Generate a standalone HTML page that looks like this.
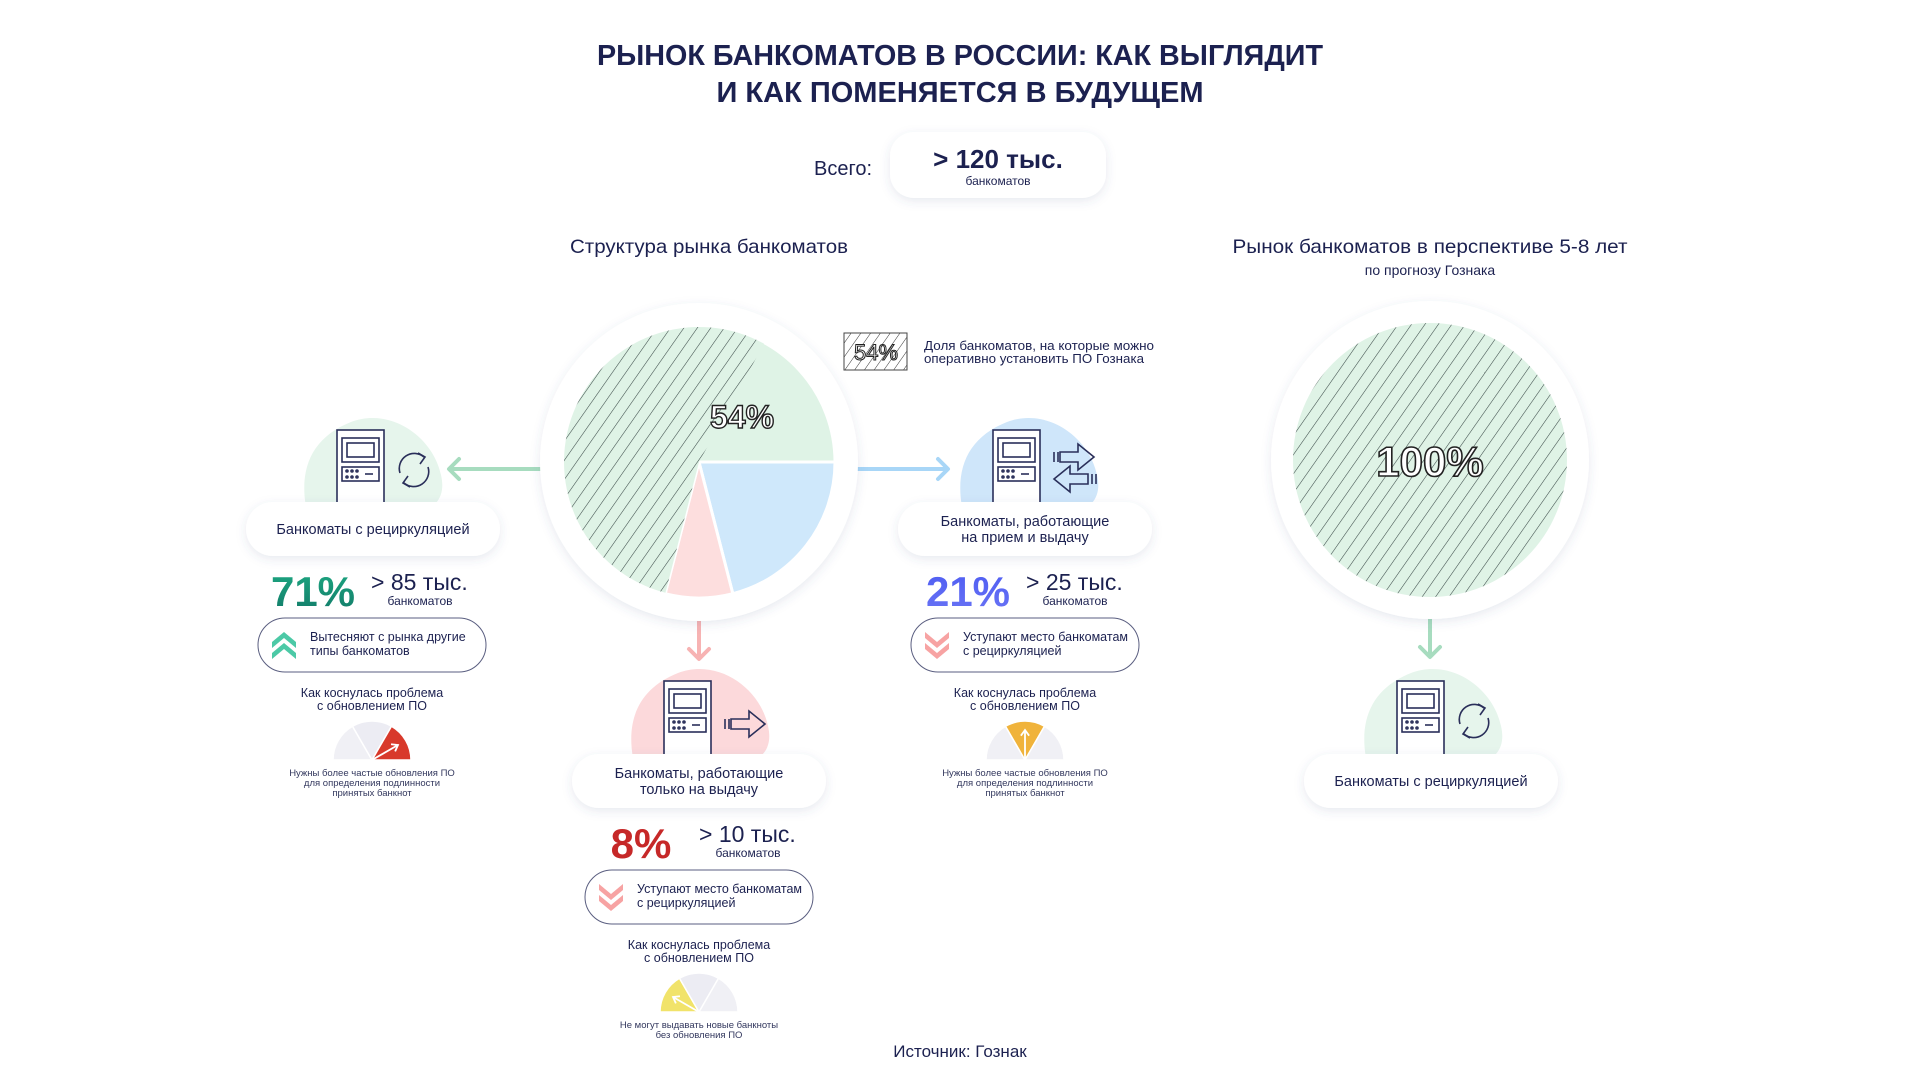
<!DOCTYPE html>
<html><head><meta charset="utf-8">
<style>
html,body{margin:0;padding:0;background:#fff;}
svg{display:block;font-family:"Liberation Sans","DejaVu Sans",sans-serif;}
</style></head>
<body>
<svg id="chart" width="1920" height="1080" viewBox="0 0 1920 1080" xmlns="http://www.w3.org/2000/svg">
<defs>
<pattern id="hatch" patternUnits="userSpaceOnUse" width="11" height="11" patternTransform="rotate(35)">
<rect width="11" height="11" fill="#dff3e6"/>
<line x1="0" y1="0" x2="0" y2="11" stroke="#3a4a48" stroke-width="1.1"/>
</pattern>
<pattern id="hatch2" patternUnits="userSpaceOnUse" width="8" height="8" patternTransform="rotate(35)">
<rect width="8" height="8" fill="#fff"/>
<line x1="0" y1="0" x2="0" y2="8" stroke="#333" stroke-width="1"/>
</pattern>
<filter id="sh" x="-20%" y="-30%" width="140%" height="170%"><feDropShadow dx="0" dy="3" stdDeviation="5" flood-color="#4a4f8a" flood-opacity="0.13"/></filter>
<linearGradient id="gGreen" x1="0" x2="0" y1="0" y2="1"><stop offset="0" stop-color="#1ea882"/><stop offset="1" stop-color="#127a68"/></linearGradient>
<linearGradient id="gBlue" x1="0" x2="0" y1="0" y2="1"><stop offset="0" stop-color="#4d5cf2"/><stop offset="1" stop-color="#6a74f5"/></linearGradient>
</defs>

<g fill="#1c2150" font-weight="bold" font-size="29" text-anchor="middle">
<text x="960" y="65" textLength="726" lengthAdjust="spacingAndGlyphs">РЫНОК БАНКОМАТОВ В РОССИИ: КАК ВЫГЛЯДИТ</text>
<text x="960" y="102" textLength="487" lengthAdjust="spacingAndGlyphs">И КАК ПОМЕНЯЕТСЯ В БУДУЩЕМ</text>
</g>

<text x="843" y="175" font-size="20" fill="#1c2150" text-anchor="middle">Всего:</text>
<rect x="890" y="132" width="216" height="66" rx="24" fill="#fff" filter="url(#sh)"/>
<text x="998" y="168" font-size="26" font-weight="bold" fill="#1c2150" text-anchor="middle">&gt; 120 тыс.</text>
<text x="998" y="185" font-size="12" fill="#1c2150" text-anchor="middle">банкоматов</text>

<text x="709" y="253" font-size="19.5" fill="#1c2150" text-anchor="middle" textLength="278" lengthAdjust="spacingAndGlyphs">Структура рынка банкоматов</text>
<text x="1430" y="253" font-size="19.5" fill="#1c2150" text-anchor="middle" textLength="395" lengthAdjust="spacingAndGlyphs">Рынок банкоматов в перспективе 5-8 лет</text>
<text x="1430" y="275" font-size="14" fill="#1c2150" text-anchor="middle">по прогнозу Гознака</text>

<g>
<rect x="844" y="333" width="63" height="37" fill="url(#hatch2)" stroke="#444" stroke-width="1"/>
<text x="876" y="360" font-size="22" fill="#fff" stroke="#222" stroke-width="1" text-anchor="middle">54%</text>
<text x="924" y="350" font-size="12.5" fill="#1c2150" textLength="230" lengthAdjust="spacingAndGlyphs">Доля банкоматов, на которые можно</text>
<text x="924" y="363" font-size="12.5" fill="#1c2150" textLength="220" lengthAdjust="spacingAndGlyphs">оперативно установить ПО Гознака</text>
</g>

<g id="connectors"></g>
<g id="pie"></g>
<g id="pie2"></g>
<g id="cards"></g>

<text x="960" y="1057" font-size="17" fill="#1c2150" text-anchor="middle">Источник: Гознак</text>
</svg>
<script>
const NS='http://www.w3.org/2000/svg';
// data
const categories=['Банкоматы с рециркуляцией','Банкоматы, работающие на прием и выдачу','Банкоматы, работающие только на выдачу'];
const shares=[71,21,8];
const counts=['> 85 тыс.','> 25 тыс.','> 10 тыс.'];
const hatchShare=[54];
const forecastShare=[100];
const gaugeLevel=[3,2,1];

function el(tag,attrs,parent,txt){const e=document.createElementNS(NS,tag);for(const k in attrs)e.setAttribute(k,attrs[k]);if(txt!==undefined)e.textContent=txt;if(parent)parent.appendChild(e);return e;}
function pt(cx,cy,r,a){return [cx+r*Math.cos(a),cy+r*Math.sin(a)];}
function arcPath(cx,cy,r,a0,a1){const p0=pt(cx,cy,r,a0),p1=pt(cx,cy,r,a1);const large=(a1-a0)>Math.PI?1:0;
if(a1-a0>=2*Math.PI-1e-6)return `M${cx-r},${cy}A${r},${r} 0 1 1 ${cx+r},${cy}A${r},${r} 0 1 1 ${cx-r},${cy}Z`;
return `M${cx},${cy}L${p0[0]},${p0[1]}A${r},${r} 0 ${large} 1 ${p1[0]},${p1[1]}Z`;}
const ang=v=>v/100*2*Math.PI;

// main pie
const pie=document.getElementById('pie');
const CX=699,CY=462,R=136;
const ring=el('circle',{cx:CX,cy:CY,r:159,fill:'#fff',filter:'url(#sh)'},pie);


const order=[1,2,0];const cols=['#dff3e6','#cfe8fb','#fddede'];
let a=0;const sliceStart=[];
order.forEach(i=>{const a1=a+ang(shares[i]);sliceStart[i]=a;
const p=el('path',{d:arcPath(CX,CY,R,a,a1),fill:cols[i],stroke:'#fff','stroke-width':3},pie);


a=a1;});
const h0=sliceStart[0];
const hp=el('path',{d:arcPath(CX,CY,R-1,h0,h0+ang(hatchShare[0])),fill:'url(#hatch)'},pie);


const hl=el('text',{x:742,y:428,'font-size':32,fill:'#fff',stroke:'#222','stroke-width':1.4,'text-anchor':'middle','font-weight':'bold'},pie,hatchShare[0]+'%');



// forecast pie
const pie2=document.getElementById('pie2');
const r2=el('circle',{cx:1430,cy:460,r:159,fill:'#fff',filter:'url(#sh)'},pie2);


const f=el('path',{d:arcPath(1430,460,137,0,ang(forecastShare[0])),fill:'url(#hatch)'},pie2);


const fl=el('text',{x:1430,y:476,'font-size':42,fill:'#fff',stroke:'#222','stroke-width':1.6,'text-anchor':'middle','font-weight':'bold'},pie2,forecastShare[0]+'%');



// connectors
const con=document.getElementById('connectors');
function arrow(x1,y1,x2,y2,c,name){const g=el('g',{},con);


el('line',{x1,y1,x2,y2,stroke:c,'stroke-width':4},g);
const dx=Math.sign(x2-x1),dy=Math.sign(y2-y1);
const px=-dy,py=dx;
el('polyline',{points:`${x2-dx*10+px*10},${y2-dy*10+py*10} ${x2},${y2} ${x2-dx*10-px*10},${y2-dy*10-py*10}`,fill:'none',stroke:c,'stroke-width':4,'stroke-linecap':'round','stroke-linejoin':'round'},g);}
arrow(560,469,449,469,'#a7dcbf','arrow-recycling');
arrow(835,469,948,469,'#a8d6f7','arrow-in-out');
arrow(699,596,699,659,'#f7b3b3','arrow-out-only');
arrow(1430,600,1430,657,'#a7dcbf','arrow-forecast');

const cards=document.getElementById('cards');
function atm(g,x,y,blob,extra){
const b=el('path',{d:`M${x-55},${y+40} C${x-62},${y} ${x-48},${y-30} ${x-10},${y-45} C${x+30},${y-60} ${x+72},${y-30} ${x+80},${y+8} C${x+84},${y+25} ${x+78},${y+35} ${x+70},${y+40} Z`,fill:blob},g);


const ic=el('g',{fill:'none',stroke:'#2a2f5a','stroke-width':1.6},g);


el('rect',{x:x-24,y:y-37,width:47,height:77,fill:'#fff'},ic);
el('rect',{x:x-19,y:y-29,width:37,height:24},ic);
el('rect',{x:x-14,y:y-24,width:27,height:14},ic);
el('rect',{x:x-19,y:y,width:37,height:14},ic);
for(let i=0;i<3;i++){el('circle',{cx:x-14+i*5,cy:y+4,r:1},ic);el('circle',{cx:x-14+i*5,cy:y+10,r:1},ic);}
el('line',{x1:x+4,y1:y+7,x2:x+12,y2:y+7},ic);
const ox=x+53;
if(extra==='recycle'){el('path',{d:`M${ox-14},${y+6} A15,15 0 0 1 ${ox+10},${y-10}`},ic);el('path',{d:`M${ox+14},${y} A15,15 0 0 1 ${ox-10},${y+16}`},ic);
el('polyline',{points:`${ox+4},${y-14} ${ox+11},${y-10} ${ox+6},${y-3}`},ic);el('polyline',{points:`${ox-4},${y+20} ${ox-11},${y+16} ${ox-6},${y+9}`},ic);}
if(extra==='out'||extra==='inout'){const yy=extra==='inout'?y-10:y+6;
el('path',{d:`M${ox-10},${yy-5}h18v-8l16,13l-16,13v-8h-18z`},ic);
el('line',{x1:ox-16,y1:yy-5,x2:ox-16,y2:yy+5},ic);el('line',{x1:ox-12,y1:yy-5,x2:ox-12,y2:yy+5},ic);}
if(extra==='inout'){const yy=y+12;
el('path',{d:`M${ox+18},${yy-5}h-18v-8l-16,13l16,13v-8h18z`},ic);
el('line',{x1:ox+22,y1:yy-5,x2:ox+22,y2:yy+5},ic);el('line',{x1:ox+26,y1:yy-5,x2:ox+26,y2:yy+5},ic);}
}
function label(g,cx,y,lines){const r=el('rect',{x:cx-127,y:y,width:254,height:54,rx:27,fill:'#fff',filter:'url(#sh)'},g);


const y0=lines.length===1?y+32:y+24;
lines.forEach((l,i)=>{const t=el('text',{x:cx,y:y0+i*16,'font-size':14.5,fill:'#1c2150','text-anchor':'middle'},g,l);

});}
function gauge(g,cx,cy,level,color){const gg=el('g',{},g);


for(let i=0;i<3;i++){const a0=Math.PI+i*Math.PI/3,a1=a0+Math.PI/3;
const on=(i===level-1);
el('path',{d:arcPath(cx,cy,39,a0,a1),fill:on?color:(i===1?'#ececf3':'#f0f0f5'),stroke:'#fff','stroke-width':1.5},gg);}
const am=Math.PI+(level-0.5)*Math.PI/3;const p=pt(cx,cy,30,am);
el('line',{x1:cx,y1:cy,x2:p[0],y2:p[1],stroke:'#fff','stroke-width':1.8},gg);
const q1=pt(p[0],p[1],7,am+Math.PI*0.8),q2=pt(p[0],p[1],7,am-Math.PI*0.8);
el('polyline',{points:`${q1[0]},${q1[1]} ${p[0]},${p[1]} ${q2[0]},${q2[1]}`,fill:'none',stroke:'#fff','stroke-width':1.8},gg);}
function block(i,cx,top,pctX,pctFill,pillText,up,chev,gColor,caption){
const g=el('g',{},cards);


const pv=el('text',{x:pctX,y:top+50,'font-size':42,'font-weight':'bold',fill:pctFill,'text-anchor':'middle'},g,shares[i]+'%');


const cv=el('text',{x:pctX+58,y:top+34,'font-size':23,fill:'#1c2150'},g,counts[i]);


el('text',{x:pctX+107,y:top+49,'font-size':12,fill:'#1c2150','text-anchor':'middle'},g,'банкоматов');
const py=top+62;
const pill=el('rect',{x:cx-114,y:py,width:228,height:54,rx:27,fill:'#fff',stroke:'#5a5e80','stroke-width':1},g);


const ch=el('g',{fill:chev},g);


const ix=cx-88,iy=py+14;
for(let k=0;k<2;k++){const yy=iy+k*11;
if(up)el('path',{d:`M${ix-12},${yy+10}L${ix},${yy}L${ix+12},${yy+10}L${ix+12},${yy+16}L${ix},${yy+6}L${ix-12},${yy+16}Z`},ch);
else el('path',{d:`M${ix-12},${yy}L${ix},${yy+10}L${ix+12},${yy}L${ix+12},${yy+6}L${ix},${yy+16}L${ix-12},${yy+6}Z`},ch);}
pillText.forEach((t,k)=>el('text',{x:cx-62,y:py+23+k*14,'font-size':12.5,fill:'#1c2150'},g,t));
const ky=top+141;
el('text',{x:cx,y:ky,'font-size':12.5,fill:'#1c2150','text-anchor':'middle'},g,'Как коснулась проблема');
el('text',{x:cx,y:ky+13,'font-size':12.5,fill:'#1c2150','text-anchor':'middle'},g,'с обновлением ПО');
gauge(g,cx,ky+63,gaugeLevel[i],gColor);
caption.forEach((t,k)=>el('text',{x:cx,y:ky+79+k*10,'font-size':9.5,fill:'#33385e','text-anchor':'middle'},g,t));
}
const capA=['Нужны более частые обновления ПО','для определения подлинности','принятых банкнот'];
// left
const gl=el('g',{},cards);
atm(gl,361,467,'#e6f5ec','recycle');label(gl,373,502,[categories[0]]);
block(0,372,556,313,'url(#gGreen)',['Вытесняют с рынка другие','типы банкоматов'],true,'#4cc9a6','#d8392b',capA);
// right
const gr=el('g',{},cards);
atm(gr,1017,467,'#cfe6fa','inout');label(gr,1025,502,['Банкоматы, работающие','на прием и выдачу']);
block(1,1025,556,968,'url(#gBlue)',['Уступают место банкоматам','с рециркуляцией'],false,'#f7a3a3','#f0b33b',capA);
// bottom
const gb=el('g',{},cards);
atm(gb,688,718,'#fcd9db','out');label(gb,699,754,['Банкоматы, работающие','только на выдачу']);
block(2,699,808,641,'#c62828',['Уступают место банкоматам','с рециркуляцией'],false,'#f7a3a3','#f1e36a',['Не могут выдавать новые банкноты','без обновления ПО']);
// forecast atm
const gf=el('g',{},cards);
atm(gf,1421,718,'#e6f5ec','recycle');label(gf,1431,754,[categories[0]]);
</script>
</body></html>
